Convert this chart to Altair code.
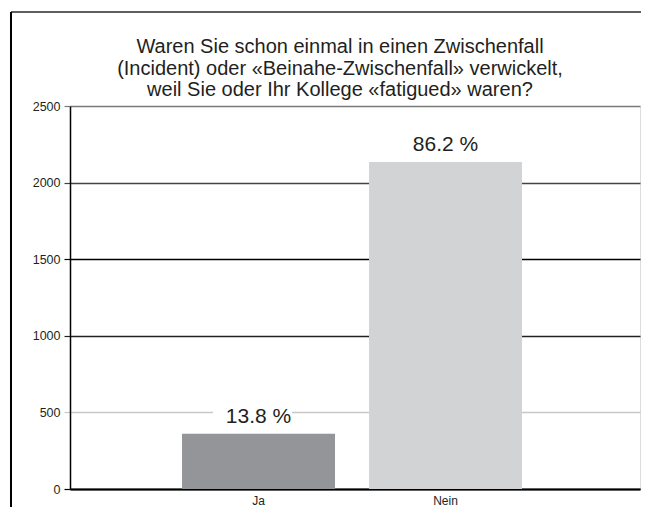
import altair as alt
import pandas as pd

categories = ["Ja", "Nein"]
counts = [360, 2134]
pct_labels = ["13.8 %", "86.2 %"]
bar_colors = ["#939598", "#d1d3d4"]

title_lines = [
    "Waren Sie schon einmal in einen Zwischenfall",
    "(Incident) oder «Beinahe-Zwischenfall» verwickelt,",
    "weil Sie oder Ihr Kollege «fatigued» waren?",
]

df = pd.DataFrame({"cat": categories, "n": counts, "pct": pct_labels})

FONT = "Liberation Sans"
W, H = 570, 383

grid_color = {
    "condition": [
        {"test": "datum.value == 500", "value": "#c8c8c8"},
        {"test": "datum.value == 2500", "value": "#7a7a7a"},
        {"test": "datum.value == 2000", "value": "#444444"},
        {"test": "datum.value == 1000", "value": "#222222"},
    ],
    "value": "#000000",
}

x = alt.X(
    "cat:N",
    sort=categories,
    scale=alt.Scale(paddingInner=0.182, paddingOuter=0.615, align=0.487),
    axis=alt.Axis(
        title=None, labelAngle=0, ticks=False, grid=False,
        domainColor="#000000", domainWidth=2,
        labelFont=FONT, labelFontSize=12, labelColor="#231f20",
        labelPadding=6,
    ),
)

y = alt.Y(
    "n:Q",
    scale=alt.Scale(domain=[0, 2500], nice=False),
    axis=alt.Axis(
        title=None, values=[0, 500, 1000, 1500, 2000, 2500], format="d",
        grid=True, gridColor=grid_color, gridWidth=1.5,
        tickColor=grid_color, tickSize=6, tickWidth=1.2,
        domainColor="#000000", domainWidth=1.5,
        labelFont=FONT, labelFontSize=12.5, labelColor="#231f20",
        labelPadding=4,
    ),
)

bars = alt.Chart(df).mark_bar().encode(
    x=x,
    y=y,
    color=alt.Color("cat:N", scale=alt.Scale(domain=categories, range=bar_colors), legend=None),
)

knockout = alt.Chart(df).mark_tick(
    color="white", thickness=22, size=79, yOffset=-21, xOffset=-6, opacity=1
).encode(x=alt.X("cat:N", sort=categories), y="n:Q")

labels = alt.Chart(df).mark_text(
    font=FONT, fontSize=21, color="#231f20", baseline="alphabetic", dy=-11
).encode(x=alt.X("cat:N", sort=categories), y="n:Q", text="pct:N")

frame_top = alt.Chart(df).mark_rule(color="#555555", strokeWidth=1.5).encode(
    x=alt.value(-59), x2=alt.value(W + 20), y=alt.value(-94)
)
frame_left = alt.Chart(df).mark_rule(color="#000000", strokeWidth=2).encode(
    x=alt.value(-59), y=alt.value(-94), y2=alt.value(H + 40)
)

chart = alt.layer(frame_top, frame_left, bars, knockout, labels).properties(
    width=W,
    height=H,
    title=alt.TitleParams(
        text=title_lines, font=FONT, fontSize=20, fontWeight="normal",
        color="#231f20", anchor="middle", frame="group", baseline="bottom",
        dx=-15, dy=119, lineHeight=21.5, offset=10,
    ),
    autosize=alt.AutoSizeParams(type="none"),
    padding={"left": 62, "top": 98, "right": 1, "bottom": 18},
).configure_view(stroke=None).configure(background="white")

chart.save("out.html", embed_options={"renderer": "svg", "actions": False})
